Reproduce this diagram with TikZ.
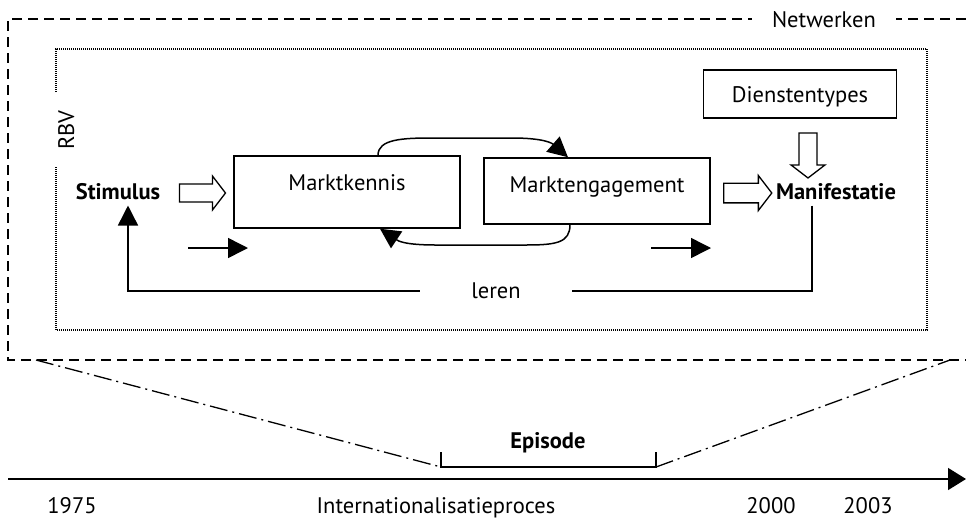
\documentclass[tikz,border=0pt]{standalone}
\usepackage{fontspec}
\setmainfont{PT Sans}
\usetikzlibrary{arrows.meta,shapes.arrows}

\begin{document}
\begin{tikzpicture}[x=1pt,y=-1pt,
  font=\fontsize{22.5}{27}\selectfont,
  box/.style={draw,line width=1.5pt,inner sep=0pt},
  txt/.style={anchor=base,inner sep=0pt},
  flow/.style={line width=1.5pt,-{Triangle[length=20pt,width=20pt]}},
  openarrow/.style={single arrow,draw,line width=1.3pt,inner sep=7.5pt,
    minimum height=46pt,minimum width=34pt,single arrow tip angle=105},
  outer/.style={line width=1.5pt,dash pattern=on 10pt off 6pt},
  inner/.style={line width=1.2pt,dash pattern=on 1pt off 1pt},
  zoomline/.style={line width=1.3pt,dash pattern=on 18pt off 5pt on 2pt off 5pt}]
  \useasboundingbox (0,0) rectangle (966,520);

  % netwerken and RBV frames
  \draw[outer] (966,19) -- (8,19) -- (8,360) -- (966,360);
  \node[txt,fill=white,inner xsep=20pt,inner ysep=4pt] (netw) at (824,27) {Netwerken};
  \draw[inner] (56,92) -- (56,49) -- (927,49) -- (927,330) -- (56,330) -- (56,166);
  \node[txt,rotate=90] (rbv) at (74,130) {RBV};

  % boxes
  \node[box,minimum width=226pt,minimum height=72pt] (mk) at (347,192) {};
  \node[txt] (mktext) at (347,190) {Marktkennis};
  \node[box,minimum width=226pt,minimum height=66pt] (me) at (597,191) {};
  \node[txt] (metext) at (597,192) {Marktengagement};
  \node[box,minimum width=193pt,minimum height=48pt] (dt) at (800,94) {};
  \node[txt] (dttext) at (800,102) {Dienstentypes};

  \node[anchor=base,inner sep=6pt] (stim) at (118,199) {\bfseries Stimulus};
  \node[anchor=base,inner sep=6pt] (man) at (836,199) {\bfseries Manifestatie};

  % open arrows
  \node[openarrow] (a1) at (199,193) {};
  \node[openarrow,minimum height=48pt,minimum width=35pt,inner sep=8.5pt] (a2) at (744,193) {};
  \node[openarrow,rotate=-90,minimum height=45pt] (a3) at (808,152) {};

  % loop between the boxes
  \draw[flow] ([xshift=31pt]mk.north) .. controls +(0,-16) and +(-30,0) .. (432,138)
    -- (512,138) .. controls +(32,0) and +(-16,-14) .. ([xshift=-29pt]me.north);
  \draw[flow] ([xshift=-27pt]me.south) .. controls +(0,18) and +(30,0) .. (526,245)
    -- (436,245) .. controls +(-32,0) and +(18,12) .. ([xshift=33pt]mk.south);

  % small arrows
  \coordinate (s1a) at (188,248);
  \coordinate (s1b) at (248,248);
  \coordinate (s2a) at (651,248);
  \coordinate (s2b) at (711,248);
  \draw[flow] (s1a) -- (s1b);
  \draw[flow] (s2a) -- (s2b);

  % leren
  \node[minimum width=152pt,inner sep=0pt] (leren) at (496,291) {leren};
  \draw[line width=1.5pt] ([xshift=-24pt]man.south) |- (leren.east);
  \draw[flow] (leren.west) -| ([xshift=10pt]stim.south);

  % episode
  \coordinate (ep1) at (441,467);
  \coordinate (ep2) at (656,467);
  \draw[line width=1.3pt] (441,452) -- (ep1) -- (ep2) -- (656,452);
  \node[txt] (epi) at (548,448) {\bfseries Episode};
  \draw[zoomline] (36,360) -- (ep1);
  \draw[zoomline] (ep2) -- (950,360);

  % time line
  \coordinate (t0) at (8,479);
  \coordinate (t1) at (966,479);
  \draw[line width=1.5pt,-{Triangle[length=18pt,width=22pt]}] (t0) -- (t1);
  \node[txt] (y1) at (72,513) {1975};
  \node[txt] (ip) at (436,513) {Internationalisatieproces};
  \node[txt] (y2) at (771,513) {2000};
  \node[txt] (y3) at (868,513) {2003};
\end{tikzpicture}
\end{document}
